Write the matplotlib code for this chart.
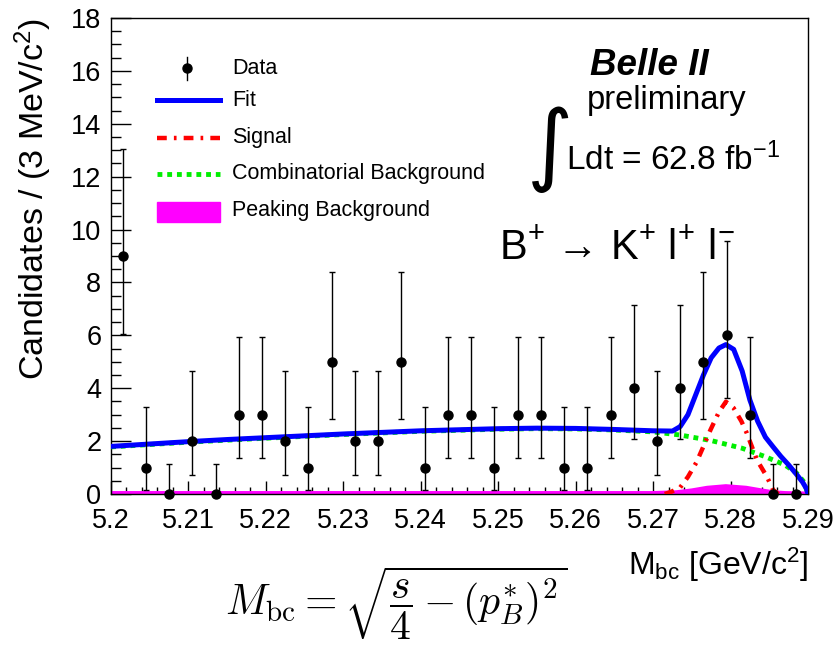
import numpy as np
import matplotlib
matplotlib.use("Agg")
import matplotlib.pyplot as plt
from matplotlib.ticker import FixedLocator, MultipleLocator

plt.rcParams['font.family'] = ['Liberation Sans', 'DejaVu Sans']
plt.rcParams['mathtext.fontset'] = 'custom'
plt.rcParams['mathtext.rm'] = 'Liberation Sans'
plt.rcParams['mathtext.it'] = 'Liberation Sans:italic'

# data points (3 MeV bins)
bin_centers = [5.2015 + 0.003 * i for i in range(30)]
counts = [9, 1, 0, 2, 0, 3, 3, 2, 1, 5, 2, 2, 5, 1, 3,
          3, 1, 3, 3, 1, 1, 3, 4, 2, 4, 5, 6, 3, 0, 0]
err_bottom = [6.06, 0.17, 0.0, 0.71, 0.0, 1.37, 1.37, 0.71, 0.17, 2.84, 0.71, 0.71, 2.84, 0.17, 1.37,
              1.37, 0.17, 1.37, 1.37, 0.17, 0.17, 1.37, 2.09, 0.71, 2.09, 2.84, 3.62, 1.37, 0.0, 0.0]
err_top = [13.06, 3.30, 1.15, 4.64, 1.15, 5.92, 5.92, 4.64, 3.30, 8.38, 4.64, 4.64, 8.38, 3.30, 5.92,
           5.92, 3.30, 5.92, 5.92, 3.30, 3.30, 5.92, 7.16, 4.64, 7.16, 8.38, 9.58, 5.92, 1.15, 1.15]

# fit curve
fit_x = [5.200, 5.205, 5.210, 5.215, 5.220, 5.225, 5.230, 5.235, 5.240, 5.245, 5.250, 5.255,
         5.260, 5.265, 5.270, 5.2725, 5.2735, 5.2745, 5.2755, 5.2765, 5.2775, 5.2785, 5.2794,
         5.2804, 5.2815, 5.2825, 5.2835, 5.2845, 5.2855, 5.2865, 5.2875, 5.2885, 5.2893, 5.2898, 5.2900]
fit_y = [1.80, 1.89, 1.98, 2.06, 2.13, 2.20, 2.27, 2.33, 2.39, 2.43, 2.47, 2.49,
         2.48, 2.44, 2.39, 2.38, 2.55, 3.00, 3.75, 4.50, 5.15, 5.52, 5.65,
         5.47, 4.65, 3.55, 2.75, 2.15, 1.78, 1.42, 1.10, 0.75, 0.45, 0.20, 0.00]

# signal component
sig_x = [5.2715, 5.2724, 5.2735, 5.2745, 5.2756, 5.2765, 5.2774, 5.2785, 5.2794,
         5.2804, 5.2814, 5.2821, 5.2834, 5.2847, 5.2855, 5.2862]
sig_y = [0.00, 0.09, 0.25, 0.65, 1.20, 1.80, 2.42, 3.10, 3.49,
         3.25, 2.75, 2.30, 1.29, 0.65, 0.15, 0.00]

# combinatorial background
comb_x = [5.200, 5.210, 5.220, 5.230, 5.240, 5.250, 5.255, 5.260, 5.265, 5.270,
          5.2735, 5.2775, 5.2815, 5.2845, 5.2870, 5.2885, 5.2895, 5.2900]
comb_y = [1.78, 1.96, 2.11, 2.25, 2.37, 2.45, 2.47, 2.46, 2.42, 2.35,
          2.23, 2.02, 1.73, 1.41, 1.10, 0.80, 0.45, 0.00]

# peaking background
peak_x = [5.200, 5.270, 5.273, 5.275, 5.277, 5.2794, 5.282, 5.284, 5.2855, 5.287, 5.290]
peak_y = [0.02, 0.02, 0.05, 0.12, 0.22, 0.28, 0.22, 0.12, 0.05, 0.02, 0.00]

xticks = [5.20, 5.21, 5.22, 5.23, 5.24, 5.25, 5.26, 5.27, 5.28, 5.29]
xtick_labels = ['5.2', '5.21', '5.22', '5.23', '5.24', '5.25', '5.26', '5.27', '5.28', '5.29']
yticks = [0, 2, 4, 6, 8, 10, 12, 14, 16, 18]

W, H = 835, 655
fig = plt.figure(figsize=(W / 100, H / 100), dpi=100)
ax = fig.add_axes([111 / W, 1 - 494 / H, 697 / W, 476 / H])

def fx(px):
    return px / W

def fy(py):
    return 1 - py / H

sig_ls = (0, (2.2, 1.6, 0.6, 1.6))
comb_ls = (0, (1.0, 1.0))

ax.fill_between(peak_x, 0, peak_y, color='#ff00ff', lw=0, zorder=2)
ax.plot(peak_x, peak_y, color='#ff00ff', lw=3.5, zorder=2)
ax.plot(comb_x, comb_y, color='#00ee00', lw=3.5, ls=comb_ls, zorder=3)
ax.plot(sig_x, sig_y, color='#ff0000', lw=3.2, ls=sig_ls, zorder=4)
ax.plot(fit_x, fit_y, color='#0000ff', lw=3.6, zorder=5)

c = np.array(counts, dtype=float)
yerr = [c - np.array(err_bottom), np.array(err_top) - c]
ax.errorbar(bin_centers, counts, yerr=yerr, fmt='o', color='black', ms=6.5,
            elinewidth=1.0, capsize=2.0, capthick=1.0, zorder=6, clip_on=False)

ax.set_xlim(5.2, 5.29)
ax.set_ylim(0, 18)
ax.xaxis.set_major_locator(FixedLocator(xticks))
ax.set_xticklabels(xtick_labels)
ax.xaxis.set_minor_locator(MultipleLocator(0.002))
ax.yaxis.set_major_locator(FixedLocator(yticks))
ax.yaxis.set_minor_locator(MultipleLocator(0.5))
ax.tick_params(axis='x', which='major', direction='in', length=9.4, width=1, labelsize=19.5, pad=10)
ax.tick_params(axis='x', which='minor', direction='in', length=4.7, width=1)
ax.tick_params(axis='y', which='major', direction='in', length=14.4, width=1, labelsize=19.5, pad=7)
ax.tick_params(axis='y', which='minor', direction='in', length=7.2, width=1)
for s in ax.spines.values():
    s.set_linewidth(1.0)

# axis titles
fig.text(fx(33), fy(18), 'Candidates / (3 MeV/c$^{2}$)', rotation=90,
         ha='center', va='top', fontsize=24.5)
fig.text(fx(808), fy(565), 'M$_{\\rm bc}$ [GeV/c$^{2}$]', ha='right', va='center', fontsize=23)
fig.text(fx(396), fy(603), r'$M_{\rm bc} = \sqrt{\dfrac{s}{4} - (p_B^{*})^2}$',
         ha='center', va='center', fontsize=30, math_fontfamily='cm')

# legend
tf = fig.transFigure
fig.lines.append(plt.Line2D([fx(187), fx(187)], [fy(57), fy(80)], color='black', lw=1.0, transform=tf))
fig.lines.append(plt.Line2D([fx(187)], [fy(68)], marker='o', ms=6.5, color='black', transform=tf))
fig.lines.append(plt.Line2D([fx(157), fx(220)], [fy(100), fy(100)], color='#0000ff', lw=3.6, transform=tf))
fig.lines.append(plt.Line2D([fx(157), fx(220)], [fy(138), fy(138)], color='#ff0000', lw=3.2,
                            ls=sig_ls, transform=tf))
fig.lines.append(plt.Line2D([fx(157), fx(220)], [fy(174), fy(174)], color='#00ee00', lw=3.5,
                            ls=comb_ls, transform=tf))
fig.patches.append(plt.Rectangle((fx(157), fy(222)), fx(63), 20 / H, color='#ff00ff', transform=tf))
for label, py in [('Data', 68), ('Fit', 100), ('Signal', 138),
                  ('Combinatorial Background', 174), ('Peaking Background', 211)]:
    fig.text(fx(232), fy(py), label, ha='left', va='center', fontsize=15.5)

# experiment labels
fig.text(fx(590), fy(75), 'Belle II', ha='left', va='baseline', fontsize=26.5,
         fontweight='bold', fontstyle='italic')
fig.text(fx(587), fy(109), 'preliminary', ha='left', va='baseline', fontsize=23.5)
fig.text(fx(550), fy(150), '\u222b', ha='center', va='center', fontsize=64, family='DejaVu Sans')
fig.text(fx(566), fy(170), 'Ldt = 62.8 fb$^{-1}$', ha='left', va='baseline', fontsize=24)
fig.text(fx(499), fy(260), 'B$^{+}$ \u2192 K$^{+}$ l$^{+}$ l$^{-}$', ha='left', va='baseline',
         fontsize=30)

fig.savefig('out.png', dpi=100)
